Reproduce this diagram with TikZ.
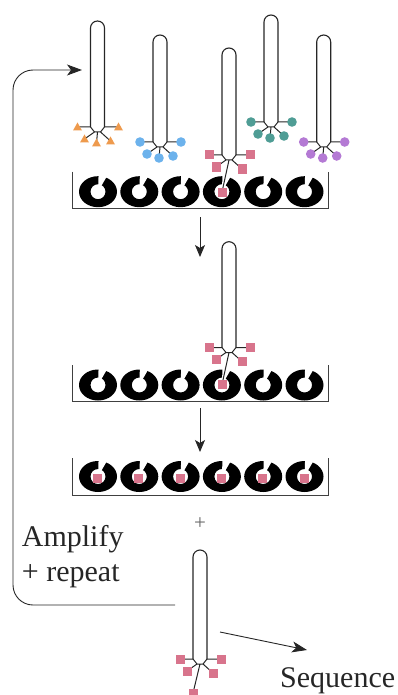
\documentclass[tikz,border=0pt]{standalone}
\usepackage{fontspec}
\setmainfont{Liberation Serif}
\usetikzlibrary{arrows.meta}

\definecolor{tagorange}{HTML}{EE9A4D}
\definecolor{tagblue}{HTML}{6CB2EC}
\definecolor{tagpink}{HTML}{D8748C}
\definecolor{tagteal}{HTML}{4F9D95}
\definecolor{tagpurple}{HTML}{B47AD4}

% one rod: \probe{x}{top}{foot}{tag pic}{stem dx}{stem dy}
\newcommand{\probe}[6]{%
  \draw[rod] (#1-7,#3) -- (#1-7,#2+7) arc[start angle=180, end angle=360, radius=7] -- (#1+7,#3);
  \draw[link] (#1-7,#3) -- (#1-20,#3)
    (#1+7,#3) -- (#1+21,#3)
    (#1-7,#3) -- (#1-3,#3+5) -- (#1+3,#3+5) -- (#1+7,#3)
    (#1-3,#3+5) -- (#1-13,#3+12)
    (#1+3,#3+5) -- (#1+13,#3+14)
    (#1,#3+5) -- (#1+#5,#3+#6);
  \pic at (#1-20,#3) {#4};
  \pic at (#1+21,#3) {#4};
  \pic at (#1-13,#3+12) {#4};
  \pic at (#1+13,#3+14) {#4};
  \pic at (#1+#5,#3+#6) {#4};
}

% one bead, hole and wedge-shaped slot on top
\newcommand{\bead}[2]{%
  \fill[even odd rule] (#1,#2) ellipse[x radius=19, y radius=15.5] (#1,#2) circle[radius=7.5];
  \fill[white] (#1,#2) -- +(-88:19) -- +(-60:19) -- cycle;
}

% open box holding six beads
\newcommand{\tray}[2]{%
  \draw[tray] (72.7,#1) -- (72.7,#2) -- (328.3,#2) -- (328.3,#1);
}

\begin{document}
\begin{tikzpicture}[x=1pt, y=-1pt,
    rod/.style={draw=black!85, line width=1.1pt},
    link/.style={draw=black!85, line width=1pt},
    tray/.style={draw=black!75, line width=1pt},
    flow/.style={draw=black!85, line width=0.9pt, -{Stealth[length=12pt, width=10pt, inset=3pt]}},
    lbl/.style={inner sep=0pt, text=black!85, font=\fontsize{30}{35}\selectfont},
    pics/tri/.style={code={\fill[#1] (-4.5,3.5) -- (4.5,3.5) -- (0,-4.5) -- cycle;}},
    pics/dot/.style={code={\fill[#1] (0,0) circle[radius=4.8];}},
    pics/sq/.style={code={\fill[#1] (-4.5,-4.5) rectangle (4.5,4.5);}}]
  \useasboundingbox (0,0) rectangle (398,695);

  % beads in the three boxes
  \foreach \i in {0,...,5} {
    \bead{98+41.3*\i}{191.7}
    \bead{98+41.3*\i}{385}
    \bead{98+41.3*\i}{476.5}
    \pic at (97.5+41.3*\i,478) {sq=tagpink};
  }
  \tray{171.7}{208.3}
  \tray{365}{401.7}
  \tray{458.3}{495}

  % free probes on top
  \probe{97.5}{21}{127}{tri=tagorange}{-1}{16}
  \probe{160}{35}{142}{dot=tagblue}{-1}{16}
  \probe{229}{48}{155}{sq=tagpink}{-7}{37}
  \probe{271}{15}{122}{dot=tagteal}{-1}{16}
  \probe{323.7}{35}{142}{dot=tagpurple}{-1}{16}

  % the bound probe and the released one
  \probe{229}{241.7}{347.5}{sq=tagpink}{-7}{37}
  \probe{200}{550}{659}{sq=tagpink}{-7}{34}

  \coordinate (wash) at (200,217);
  \coordinate (bound) at (200,257);
  \coordinate (cleave) at (200,408);
  \coordinate (left) at (200,452);
  \coordinate (back) at (175,605);
  \coordinate (again) at (82,70);
  \coordinate (read) at (220,632);
  \coordinate (seqtip) at (307,650);

  \draw[flow] (wash) -- (bound);
  \draw[flow] (cleave) -- (left);
  \draw[flow, rounded corners=20pt, -{Stealth[length=15pt, width=11pt, inset=4pt]}]
    (back) -- (13,605) -- (13,70) -- (again);
  \draw[flow, -{Stealth[length=15pt, width=11pt, inset=4pt]}] (read) -- (seqtip);

  \node[lbl, text=black!60, font=\fontsize{21}{24}\selectfont] (plus) at (200,524) {+};
  \node[lbl, anchor=base west] (amp) at (21.7,546.7) {Amplify};
  \node[lbl, anchor=base west] (rep) at (21.7,581.7) {+ repeat};
  \node[lbl, anchor=base west] (seq) at (280,687.3) {Sequence};
\end{tikzpicture}
\end{document}
